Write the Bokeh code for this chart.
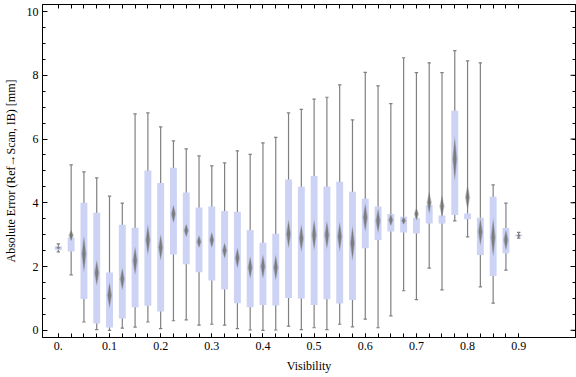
import math
from bokeh.plotting import figure
from bokeh.models import Range1d, LinearAxis, FixedTicker, ColumnDataSource
from bokeh.embed import file_html
from bokeh.resources import INLINE

# ---- data ----
visibility = [0.0, 0.025, 0.05, 0.075, 0.1, 0.125, 0.15, 0.175, 0.2, 0.225,
              0.25, 0.275, 0.3, 0.325, 0.35, 0.375, 0.4, 0.425, 0.45, 0.475,
              0.5, 0.525, 0.55, 0.575, 0.6, 0.625, 0.65, 0.675, 0.7, 0.725,
              0.75, 0.775, 0.8, 0.825, 0.85, 0.875, 0.9]
whisker_low = [2.46, 1.74, 0.26, 0.02, 0.00, 0.07, 0.10, 0.26, 0.05, 0.30,
               0.33, 0.16, 0.19, 0.16, 0.05, 0.01, 0.00, 0.01, 0.13, 0.02,
               0.08, 0.02, 0.19, 0.11, 0.35, 0.08, 0.45, 1.24, 0.96, 1.95,
               1.27, 3.43, 2.93, 1.36, 0.85, 1.89, 2.89]
q1 = [2.52, 2.47, 0.98, 0.21, 0.09, 0.37, 0.72, 0.77, 0.59, 2.38,
      2.07, 1.82, 1.56, 1.28, 0.85, 0.72, 0.79, 0.78, 1.01, 1.00,
      0.79, 0.97, 0.84, 0.95, 2.57, 2.83, 3.10, 3.07, 3.04, 3.35,
      3.35, 3.62, 3.48, 2.36, 1.70, 2.42, 2.95]
median = [2.59, 2.98, 2.39, 1.80, 1.10, 1.61, 2.18, 2.84, 2.60, 3.65,
          3.13, 2.78, 2.83, 2.50, 2.27, 1.97, 2.00, 1.97, 3.02, 2.89,
          2.99, 2.99, 2.94, 2.73, 3.54, 3.44, 3.46, 3.44, 3.65, 4.01,
          3.89, 5.38, 4.17, 3.09, 2.91, 2.83, 2.97]
q3 = [2.64, 2.91, 4.00, 3.69, 1.81, 3.31, 3.22, 5.01, 4.62, 5.10,
      4.32, 3.85, 3.88, 3.74, 3.72, 3.15, 2.75, 3.03, 4.73, 4.50,
      4.84, 4.51, 4.66, 4.35, 4.13, 3.88, 3.65, 3.56, 3.53, 3.92,
      3.60, 6.89, 3.66, 3.53, 4.19, 3.21, 3.00]
whisker_high = [2.71, 5.19, 4.97, 4.78, 4.21, 3.99, 6.79, 6.82, 6.38, 5.94,
                5.69, 5.47, 5.16, 5.25, 5.63, 5.52, 5.88, 6.05, 6.82, 6.93,
                7.25, 7.31, 7.70, 6.60, 8.09, 7.67, 7.11, 8.55, 8.08, 8.39,
                8.08, 8.77, 8.45, 8.39, 4.56, 3.99, 3.07]
median_ci = [0.05, 0.19, 0.60, 0.42, 0.43, 0.37, 0.47, 0.50, 0.43, 0.30,
             0.22, 0.21, 0.26, 0.26, 0.34, 0.37, 0.40, 0.42, 0.47, 0.45,
             0.50, 0.46, 0.48, 0.57, 0.47, 0.41, 0.20, 0.13, 0.21, 0.37,
             0.37, 0.73, 0.42, 0.45, 0.63, 0.34, 0.05]
x_label_ticks = [0.0, 0.1, 0.2, 0.3, 0.4, 0.5, 0.6, 0.7, 0.8, 0.9]
x_label_text = ["0.", "0.1", "0.2", "0.3", "0.4", "0.5", "0.6", "0.7", "0.8", "0.9"]
y_major = [0, 2, 4, 6, 8, 10]
y_minor = [0, 0.5, 1, 1.5, 2, 2.5, 3, 3.5, 4, 4.5, 5, 5.5, 6, 6.5, 7, 7.5,
           8, 8.5, 9, 9.5, 10]

FONT = "Liberation Serif"
BOX_W = 0.0135
CAP_W = 0.0033

p = figure(width=576, height=377, output_backend="svg", toolbar_location=None,
           x_range=Range1d(-0.031, 1.011), y_range=Range1d(-0.226, 10.22),
           x_axis_location=None, y_axis_location=None,
           min_border_left=36, min_border_right=1, min_border_top=4,
           min_border_bottom=40)
p.xgrid.visible = False
p.ygrid.visible = False
p.outline_line_color = "black"
p.outline_line_width = 1
p.background_fill_color = "white"
p.border_fill_color = "white"

src = ColumnDataSource(dict(x=visibility, lo=whisker_low, q1=q1, med=median,
                            q3=q3, hi=whisker_high,
                            capl=[v - CAP_W for v in visibility],
                            capr=[v + CAP_W for v in visibility]))

WH = "#808080"
p.segment(x0="x", y0="lo", x1="x", y1="hi", source=src, line_color=WH, line_width=1.2)
p.segment(x0="capl", y0="hi", x1="capr", y1="hi", source=src, line_color=WH, line_width=1.2)
p.segment(x0="capl", y0="lo", x1="capr", y1="lo", source=src, line_color=WH, line_width=1.2)
p.vbar(x="x", bottom="q1", top="q3", width=BOX_W, source=src,
       fill_color="#ccd3f5", line_color=None)

# blurred-looking median diamonds: soft outer layer + darker core
for w, hs, col, a in [(0.0052, 1.0, "#8a8a8a", 0.45), (0.0032, 0.85, "#6a6a6a", 0.75)]:
    xs = [[v - w, v, v + w, v] for v in visibility]
    ys = [[m, m + h * hs, m, m - h * hs] for m, h in zip(median, median_ci)]
    p.patches(xs, ys, fill_color=col, fill_alpha=a, line_color=None)


def style(ax):
    ax.axis_line_color = "black"
    ax.major_tick_line_color = "black"
    ax.minor_tick_line_color = "black"
    ax.major_tick_in = 5
    ax.major_tick_out = 0
    ax.minor_tick_in = 3
    ax.minor_tick_out = 0
    ax.major_label_text_font = FONT
    ax.major_label_text_font_size = "12px"
    ax.major_label_text_color = "black"
    ax.axis_label_text_font = FONT
    ax.axis_label_text_font_size = "12px"
    ax.axis_label_text_font_style = "normal"
    ax.axis_label_text_color = "black"


bottom = LinearAxis(ticker=FixedTicker(ticks=x_label_ticks, minor_ticks=visibility),
                    axis_label="Visibility")
style(bottom)
bottom.major_label_overrides = {t: s for t, s in zip(x_label_ticks, x_label_text)}
bottom.major_tick_in = 4
bottom.minor_tick_in = 4
bottom.major_label_standoff = 4
bottom.axis_label_standoff = 6
p.add_layout(bottom, "below")

top = LinearAxis(ticker=FixedTicker(ticks=[], minor_ticks=visibility))
style(top)
top.minor_tick_in = 4
top.major_label_standoff = 0
p.add_layout(top, "above")

left = LinearAxis(ticker=FixedTicker(ticks=y_major, minor_ticks=y_minor),
                  axis_label="Absolute Error (Ref\u2192Scan, IB) [mm]")
style(left)
left.major_label_standoff = 4
left.axis_label_standoff = 6
p.add_layout(left, "left")

right = LinearAxis(ticker=FixedTicker(ticks=[], minor_ticks=y_minor))
style(right)
right.major_label_standoff = 0
p.add_layout(right, "right")
# longer major ticks on the right frame edge, drawn inward in screen units
p.ray(x=[p.x_range.end] * len(y_major), y=y_major, length=5,
      length_units="screen", angle=math.pi, line_color="black", line_width=1)

open("out.html", "w").write(file_html(p, INLINE))
